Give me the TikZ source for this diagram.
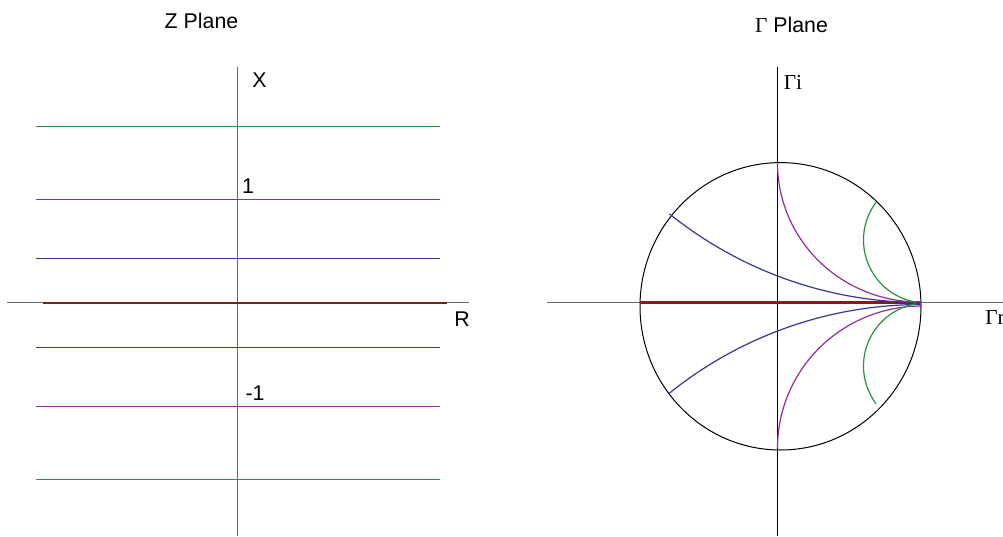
\documentclass[tikz,border=0pt]{standalone}
\usepackage{fontspec}
\setmainfont{Liberation Sans}
\newfontfamily\grfont{Liberation Serif}
\definecolor{axisgray}{RGB}{105,105,105}
\definecolor{lgreen}{RGB}{45,145,65}
\definecolor{lpurple}{RGB}{145,45,155}
\definecolor{lblue}{RGB}{55,55,155}
\definecolor{lred}{RGB}{135,25,25}
\begin{document}
\begin{tikzpicture}[x=0.75pt,y=-0.75pt,
  font=\fontsize{16}{19}\selectfont,
  grayaxis/.style={axisgray,line width=1.3pt},
  blackaxis/.style={black,line width=0.75pt},
  thinline/.style={line width=0.9pt},
  lbl/.style={inner sep=0pt,anchor=center}]
\useasboundingbox (0,0) rectangle (1003,536);
\fill[white] (0,0) rectangle (1003,536);

% ---------- Z plane ----------
\node[lbl] (ztitle) at (201.5,21) {Z Plane};
\coordinate (zvt) at (237.5,67);
\coordinate (zvb) at (237.5,536);
\coordinate (zhl) at (7,302.5);
\coordinate (zhr) at (469,302.5);
\draw[grayaxis] (zvt) -- (zvb);
\draw[grayaxis] (zhl) -- (zhr);
\coordinate (g1l) at (36,126.5); \coordinate (g1r) at (440,126.5);
\coordinate (p1l) at (36,199.5); \coordinate (p1r) at (440,199.5);
\coordinate (b1l) at (36,258.5); \coordinate (b1r) at (440,258.5);
\coordinate (b2l) at (36,347.5); \coordinate (b2r) at (440,347.5);
\coordinate (p2l) at (36,406.5); \coordinate (p2r) at (440,406.5);
\coordinate (g2l) at (36,479.5); \coordinate (g2r) at (440,479.5);
\coordinate (rl) at (43,302.5); \coordinate (rr) at (447,302.5);
\draw[thinline,lgreen] (g1l) -- (g1r);
\draw[thinline,lpurple] (p1l) -- (p1r);
\draw[thinline,lblue] (b1l) -- (b1r);
\draw[thinline,lblue] (b2l) -- (b2r);
\draw[thinline,lpurple] (p2l) -- (p2r);
\draw[thinline,lgreen] (g2l) -- (g2r);
\draw[lred,line width=1.5pt] (rl) -- (rr);
\node[lbl] (zx) at (259.5,80) {X};
\node[lbl] (zr) at (462,319) {R};
\node[lbl] (zone) at (248,186) {1};
\node[lbl] (zmone) at (255,393.5) {-1};

% ---------- Gamma plane ----------
\node[lbl] (gtitle) at (791.5,25) {{\grfont Γ} Plane};
\coordinate (gvt) at (777.5,67);
\coordinate (gvb) at (777.5,536);
\coordinate (ghl) at (547,302.5);
\coordinate (ghr) at (1003,302.5);
\draw[grayaxis] (ghl) -- (ghr);
\draw[blackaxis] (gvt) -- (gvb);
\coordinate (gc) at (780.5,306.3);
\draw[black,line width=0.75pt] (gc) ellipse [x radius=105.375pt, y radius=107.775pt];
% red line
\coordinate (grl) at (640,302.5); \coordinate (grr) at (920,302.5);
\draw[lred,line width=2.2pt] (grl) -- (grr);
% blue arcs
\draw[thinline,lblue] plot[domain=231.2:270,samples=60,variable=\t] ({921+401.4*cos(\t)},{-98.9-401.4*sin(\t)});
\draw[thinline,lblue] plot[domain=231.2:270,samples=60,variable=\t] ({921+401.4*cos(\t)},{705.9+401.4*sin(\t)});
% purple arcs
\draw[thinline,lpurple] plot[domain=180:270,samples=60,variable=\t] ({919.5+142*cos(\t)},{163-139*sin(\t)});
\draw[thinline,lpurple] plot[domain=90:180,samples=60,variable=\t] ({921.5+144*cos(\t)},{448-142*sin(\t)});
% green arcs
\draw[thinline,lgreen] plot[domain=143:260,samples=60,variable=\t] ({926.5+63*cos(\t)},{240-63*sin(\t)});
\draw[thinline,lgreen] plot[domain=100:217,samples=60,variable=\t] ({926.5+63*cos(\t)},{366-63*sin(\t)});
\node[lbl] (gi) at (793,82) {\grfont Γi};
\node[lbl,anchor=west] (gr) at (985,317.5) {\grfont Γr};
\end{tikzpicture}
\end{document}
